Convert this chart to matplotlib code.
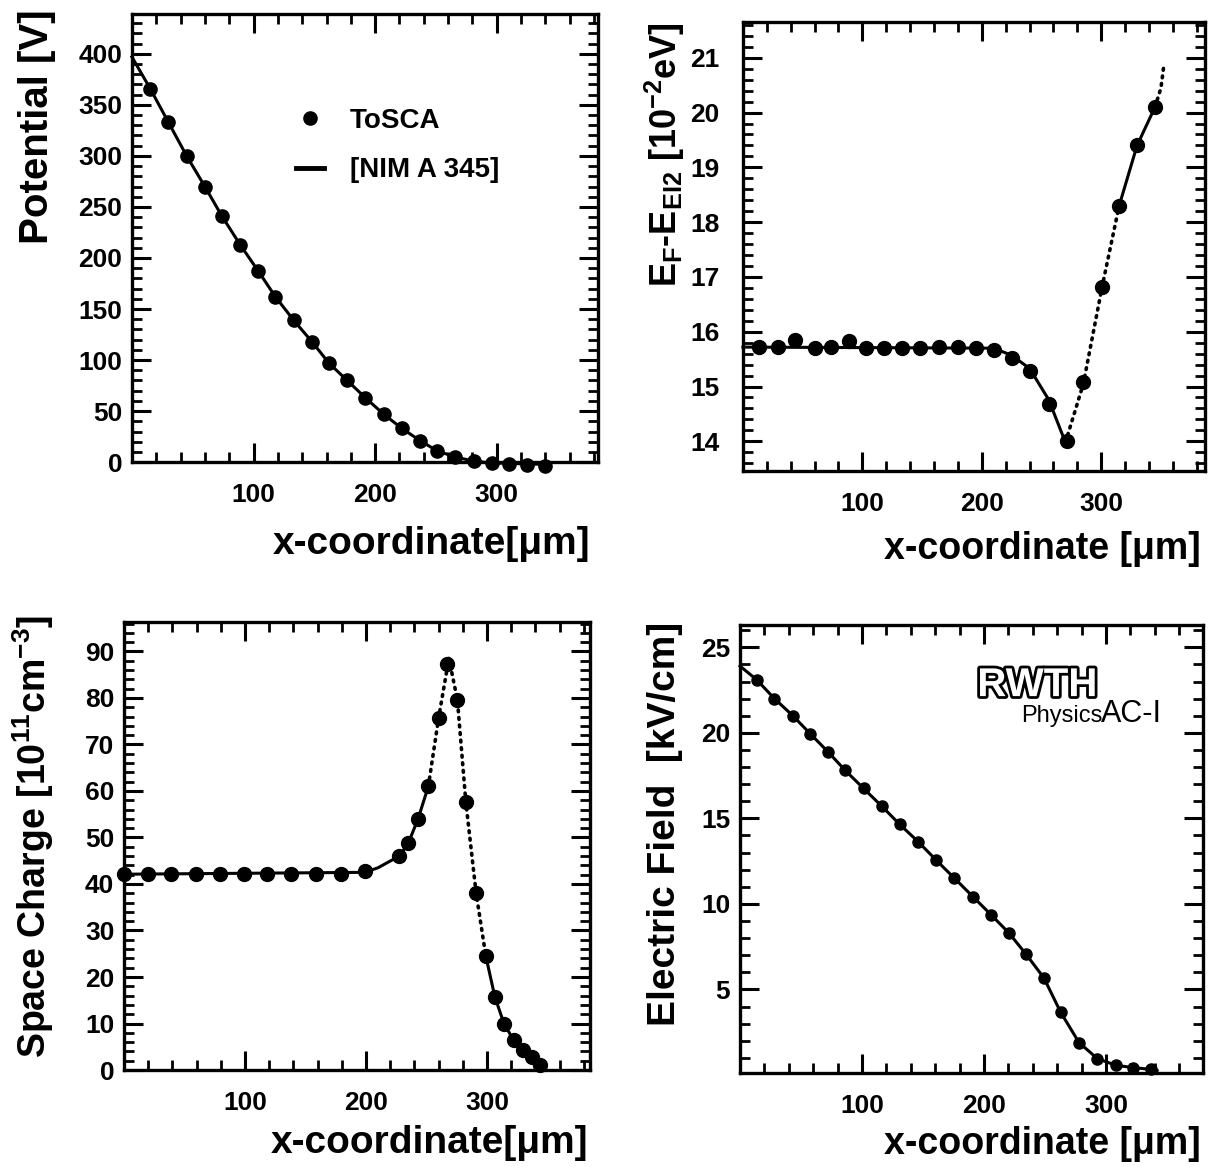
import numpy as np
import matplotlib
matplotlib.use('Agg')
import matplotlib.pyplot as plt
import matplotlib.patheffects as pe
from matplotlib.ticker import MultipleLocator, FixedLocator
from matplotlib.lines import Line2D

plt.rcParams['font.family'] = ['Liberation Sans', 'DejaVu Sans']
plt.rcParams['font.weight'] = 'bold'
plt.rcParams['axes.labelweight'] = 'bold'
plt.rcParams['mathtext.fontset'] = 'custom'
plt.rcParams['mathtext.rm'] = 'Liberation Sans:bold'
plt.rcParams['mathtext.it'] = 'Liberation Sans:bold'
plt.rcParams['mathtext.bf'] = 'Liberation Sans:bold'

# ---- panel 1: potential ----
pot_x = [15, 30, 45, 60, 74, 89, 104, 118, 133, 148, 162, 177, 192, 207, 222,
         237, 251, 266, 281, 296, 310, 325, 340]
pot_y = [366, 333, 300, 270, 241, 213, 187, 162, 139, 118, 97, 80, 63, 47, 33,
         21, 11, 5, 1, -1, -2, -3, -4]
pot_ref_x = [0, 15, 30, 45, 60, 74, 89, 104, 118, 133, 148, 162, 177, 192, 207,
             222, 237, 251, 266, 281, 296, 310, 325, 340]
pot_ref_y = [397, 366, 333, 300, 270, 241, 213, 187, 162, 139, 118, 97, 80, 63,
             47, 33, 21, 11, 5, 1, -1, -1, -2, -2]

# ---- panel 2: Fermi level ----
ef_x = [13.5, 29, 44, 60, 74, 89, 103, 118, 133, 148, 164, 180, 195, 210, 225,
        240, 256, 271, 285, 301, 315, 330, 345]
ef_y = [15.72, 15.72, 15.85, 15.70, 15.72, 15.83, 15.70, 15.70, 15.70, 15.70,
        15.72, 15.72, 15.70, 15.67, 15.53, 15.29, 14.68, 14.01, 15.09, 16.82,
        18.30, 19.41, 20.10]
ef_ref_solid1 = ([0, 210, 225, 240, 256, 270], [15.72, 15.70, 15.57, 15.33, 14.76, 13.98])
ef_ref_dot1 = ([270, 285, 301, 315], [13.98, 15.05, 16.85, 18.30])
ef_ref_solid2 = ([315, 330, 345], [18.30, 19.40, 20.10])
ef_ref_dot2 = ([345, 350, 352.5], [20.10, 20.45, 20.88])

# ---- panel 3: space charge ----
sc_x = [0, 20, 39, 59.5, 79, 99, 118, 138, 159, 179, 199, 227.5, 235, 243, 251.5,
        260, 267, 275.5, 282.5, 291, 299, 306.5, 314, 322, 330, 337.5, 344]
sc_y = [42.1, 42.1, 42.1, 42.1, 42.1, 42.1, 42.1, 42.1, 42.1, 42.1, 42.7, 46.0,
        48.8, 53.9, 61.0, 75.7, 87.4, 79.6, 57.6, 38.0, 24.5, 15.7, 10.0, 6.4,
        4.3, 2.7, 1.1]
sc_ref_solid1 = ([0, 199, 210, 227.5, 235, 243, 251.5], [42.1, 42.5, 43.5, 46.0, 48.8, 54.0, 61.0])
sc_ref_dot = ([251.5, 260, 268.5, 275.5, 282.5, 291, 299], [61.0, 75.7, 88.5, 79.6, 57.6, 38.0, 24.5])
sc_ref_solid2 = ([299, 306.5, 314, 322, 330, 337.5, 344, 348], [24.5, 15.7, 10.0, 6.4, 4.3, 2.7, 1.1, 0.0])

# ---- panel 4: electric field ----
fld_x = [13.7, 28.2, 43.3, 57.5, 72, 86.3, 101.3, 116.4, 130.9, 146, 160.7, 175.8,
         190.9, 205.9, 220.5, 234.2, 249.2, 262.9, 278, 293, 308.1, 322.3, 336.9]
fld_y = [23.1, 22.0, 21.0, 19.95, 18.9, 17.8, 16.75, 15.7, 14.65, 13.64, 12.57,
         11.5, 10.43, 9.36, 8.3, 7.09, 5.67, 3.67, 1.89, 0.96, 0.57, 0.43, 0.33]
fld_ref_x = [0] + fld_x + [342]
fld_ref_y = [23.9] + fld_y + [0.25]

fig = plt.figure(figsize=(12.1, 11.67), dpi=100)


def style_axes(ax, xlim, ylim, yticks, yminor, ypad=7):
    ax.set_xlim(*xlim)
    ax.set_ylim(*ylim)
    ax.xaxis.set_major_locator(FixedLocator([100, 200, 300]))
    ax.xaxis.set_minor_locator(MultipleLocator(20))
    ax.yaxis.set_major_locator(FixedLocator(yticks))
    ax.yaxis.set_minor_locator(MultipleLocator(yminor))
    ax.tick_params(which='both', direction='in', top=True, right=True)
    ax.tick_params(which='major', length=14, width=2.2, labelsize=19)
    ax.tick_params(which='minor', length=7, width=2.0)
    ax.tick_params(axis='x', pad=15)
    ax.tick_params(axis='y', pad=ypad)
    for sp in ax.spines.values():
        sp.set_linewidth(2.4)


mk = dict(marker='o', ls='none', color='black', clip_on=False, zorder=3)
ln = dict(color='black', lw=2.2, clip_on=False)
dt = dict(color='black', lw=2.6, ls=(0, (0.5, 1.6)), clip_on=False, dash_capstyle='round')

# panel 1
ax1 = fig.add_axes([0.109, 0.604, 0.385, 0.384])
ax1.plot(pot_ref_x, pot_ref_y, **ln)
ax1.plot(pot_x, pot_y, ms=9.5, **mk)
style_axes(ax1, (0, 383), (0, 439), np.arange(0, 401, 50), 10)
ax1.set_ylabel('Potential [V]', fontsize=29, loc='top')
ax1.yaxis.set_label_coords(-0.162, 1.01)
ax1.set_xlabel('x-coordinate[μm]', fontsize=28, loc='right')
ax1.xaxis.set_label_coords(0.983, -0.142)
handles = [Line2D([], [], marker='o', ls='none', color='black', ms=9.5),
           Line2D([], [], color='black', lw=3.5)]
ax1.legend(handles, ['ToSCA', '[NIM A 345]'], frameon=False, fontsize=20,
           loc='upper left', bbox_to_anchor=(0.322, 0.822), handlelength=1.0,
           handletextpad=0.95, labelspacing=0.85, borderpad=0)

# panel 2
ax2 = fig.add_axes([0.614, 0.596, 0.382, 0.385])
ax2.plot(*ef_ref_solid1, **ln)
ax2.plot(*ef_ref_dot1, **dt)
ax2.plot(*ef_ref_solid2, **ln)
ax2.plot(*ef_ref_dot2, **dt)
ax2.plot(ef_x, ef_y, ms=10, **mk)
style_axes(ax2, (0, 387), (13.45, 21.65), np.arange(14, 22), 0.2, ypad=17)
ax2.set_ylabel(r'E$_{F}$-E$_{EI2}$ [10$^{-2}$eV]', fontsize=26, loc='top')
ax2.yaxis.set_label_coords(-0.12, 1.0)
ax2.set_xlabel('x-coordinate [μm]', fontsize=27, loc='right')
ax2.xaxis.set_label_coords(0.99, -0.132)

# panel 3
ax3 = fig.add_axes([0.1025, 0.0831, 0.385, 0.3842])
ax3.plot(*sc_ref_solid1, **ln)
ax3.plot(*sc_ref_dot, **dt)
ax3.plot(*sc_ref_solid2, **ln)
ax3.plot(sc_x, sc_y, ms=10, **mk)
style_axes(ax3, (0, 385), (0, 96.4), np.arange(0, 91, 10), 2)
ax3.set_ylabel(r'Space Charge [10$^{11}$cm$^{-3}$]', fontsize=27, loc='top')
ax3.yaxis.set_label_coords(-0.145, 1.016)
ax3.set_xlabel('x-coordinate[μm]', fontsize=28, loc='right')
ax3.xaxis.set_label_coords(0.996, -0.122)

# panel 4
ax4 = fig.add_axes([0.6116, 0.0803, 0.383, 0.3841])
ax4.plot(fld_ref_x, fld_ref_y, **ln)
ax4.plot(fld_x, fld_y, ms=8, **mk)
style_axes(ax4, (0, 380), (0.1, 26.3), [5, 10, 15, 20, 25], 1)
ax4.set_ylabel('Electric Field  [kV/cm]', fontsize=28, loc='top')
ax4.yaxis.set_label_coords(-0.123, 1.007)
ax4.set_xlabel('x-coordinate [μm]', fontsize=27, loc='right')
ax4.xaxis.set_label_coords(0.994, -0.118)

# RWTH logo text
ax4.text(0.512, 0.866, 'RWTH', transform=ax4.transAxes, fontsize=29,
         fontweight='bold', color='white', va='center', ha='left',
         path_effects=[pe.withStroke(linewidth=4, foreground='black')])
ax4.text(0.607, 0.783, 'Physics', transform=ax4.transAxes, fontsize=17,
         fontweight='normal', va='baseline', ha='left')
ax4.text(0.778, 0.783, 'AC-I', transform=ax4.transAxes, fontsize=22,
         fontweight='normal', va='baseline', ha='left')

fig.savefig('out.png', dpi=100)
